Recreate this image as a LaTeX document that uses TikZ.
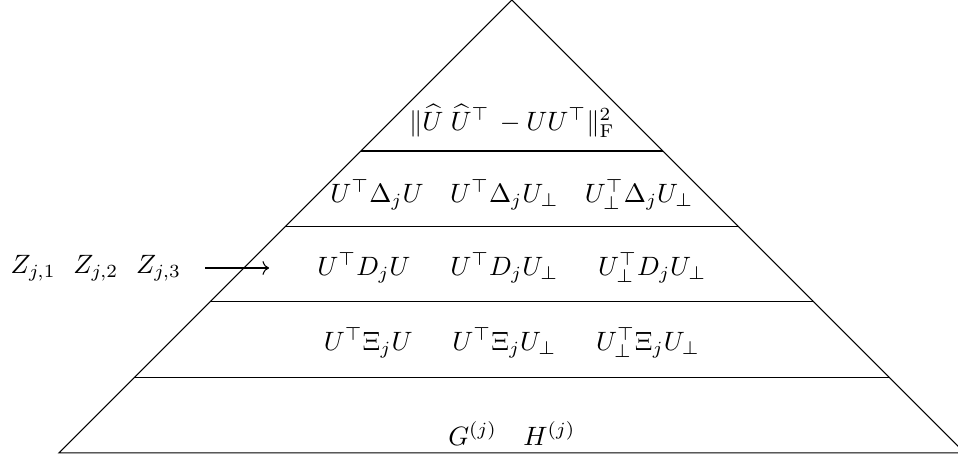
\documentclass[tikz,border=0pt]{standalone}
\usepackage{amsmath,amssymb}
\usetikzlibrary{arrows.meta,positioning}
\newcommand{\colgap}{\hspace{1.5em}}
\tikzset{
  lvl/.style={inner sep=2pt},
  feed/.style={->, shorten <=7pt, shorten >=16pt},
}

\begin{document}
\begin{tikzpicture}
\useasboundingbox (-6.78,-0.053) rectangle (5.91,6.0);
%---- pyramid
\draw (-6,0) -- (0,6) -- (6,0) -- cycle;
\foreach \h in {1,...,4}
  \draw (-6+\h,\h) -- (6-\h,\h);
%---- levels
\node[lvl] (l5) at (0,0.26) {$G^{(j)}\quad H^{(j)}$};
\node[lvl] (l4) at (0,1.46) {$U^\top\Xi_jU\colgap U^\top\Xi_jU_\perp\colgap U_\perp^\top\Xi_jU_\perp$};
\node[lvl] (l3) at (0,2.45) {$U^\top D_jU\colgap U^\top D_jU_\perp\colgap U_\perp^\top D_jU_\perp$};
\node[lvl] (l2) at (0,3.42) {$U^\top\Delta_jU\quad U^\top\Delta_jU_\perp\quad U_\perp^\top\Delta_jU_\perp$};
\node[lvl] (l1) at (0,4.40) {$\|\widehat{U}\;\widehat{U}^\top\,-UU^\top\|_{\mathrm{F}}^2$};
%---- input
\node[lvl] (zs) at (-5.51,2.45) {$Z_{j,1}\ \ Z_{j,2}\ \ Z_{j,3}$};
\draw[feed] (zs) -- (l3);
\end{tikzpicture}
\end{document}
